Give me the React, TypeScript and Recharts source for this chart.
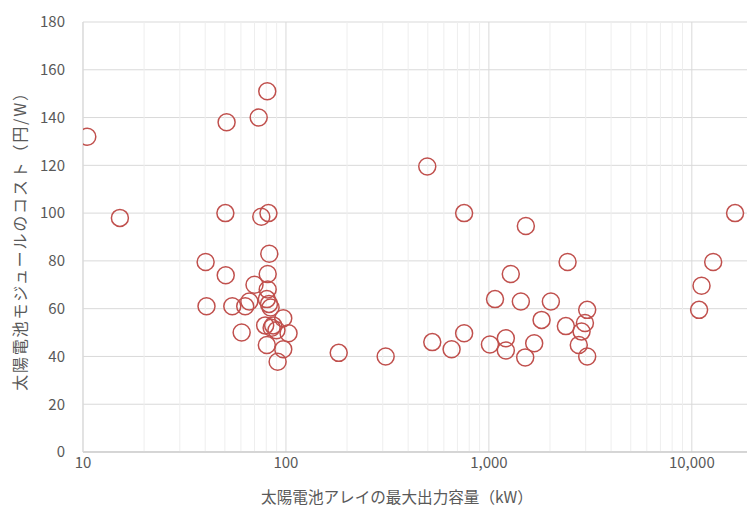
import React from 'react';
import {
  ScatterChart,
  Scatter,
  XAxis,
  YAxis,
  CartesianGrid,
  ReferenceLine,
} from 'recharts';

// 太陽電池アレイの最大出力容量 (kW)
const capacityKw = [
  10.5, 15.2, 40.2, 40.6, 50.5, 50.3, 51, 54.4, 60.5, 63, 66, 70, 73.4, 75.6,
  80.9, 82, 82.8, 81.3, 81.3, 80.5, 82.5, 84, 79, 86.5, 89.8, 85, 97, 103,
  80.5, 97, 91, 182, 310,
  497, 526, 655, 755, 755, 1012, 1072, 1212, 1212, 1282, 1437, 1510, 1521,
  1672, 1818, 2020, 2442, 2395, 2773, 2862, 2973, 3051, 3051,
  10860, 11164, 12740, 16330,
];

// 太陽電池モジュールのコスト (円/W)
const moduleCost = [
  132, 98, 79.5, 61, 74, 100, 138, 61, 50, 61, 63, 70, 140, 98.5,
  151, 100, 83, 74.5, 68, 64, 62, 60.5, 53, 53, 51, 52, 56, 49.7,
  44.8, 43, 37.8, 41.5, 40,
  119.5, 46, 43, 100, 49.7, 45, 64, 47.6, 42.5, 74.5, 63, 39.6, 94.6,
  45.5, 55.3, 63, 79.5, 52.7, 44.8, 50.4, 54, 59.5, 40,
  59.5, 69.6, 79.5, 100,
];

const xTicks = [10, 100, 1000, 10000];
const yTicks = [0, 20, 40, 60, 80, 100, 120, 140, 160, 180];

const X_MAX = 18700;

// minor log gridlines 20..90, 200..900, ...
const minorLines: number[] = [];
for (const decade of [10, 100, 1000, 10000]) {
  for (let m = 2; m <= 9; m++) {
    if (decade * m < X_MAX) minorLines.push(decade * m);
  }
}

const data = capacityKw.map((x, i) => ({ x, y: moduleCost[i] }));

const FONT = '"Noto Sans CJK JP", "Noto Sans", sans-serif';
const TEXT = '#595959';

function Ring(props: any) {
  const { cx, cy } = props;
  return <circle cx={cx} cy={cy} r={8.5} fill="none" stroke="#C0504D" strokeWidth={1.5} />;
}

export default function App() {
  return (
    <div style={{ position: 'absolute', left: 0, top: 0, width: 747, height: 507, background: '#fff' }}>
      <ScatterChart
        width={747}
        height={507}
        margin={{ top: 22, right: 0, bottom: 0, left: 0 }}
        style={{ fontFamily: FONT }}
      >
        <CartesianGrid vertical={false} stroke="#d9d9d9" />
        {minorLines.map(v => (
          <ReferenceLine key={`m${v}`} x={v} stroke="#eeeeee" strokeWidth={1} />
        ))}
        {xTicks.map(v => (
          <ReferenceLine key={`M${v}`} x={v} stroke="#d9d9d9" strokeWidth={1} />
        ))}
        <XAxis
          type="number"
          dataKey="x"
          scale="log"
          domain={[10, X_MAX]}
          allowDataOverflow
          ticks={xTicks}
          tickFormatter={v => Number(v).toLocaleString('en-US')}
          tick={{ fill: TEXT, fontSize: 15 }}
          tickLine={false}
          tickSize={5}
          tickMargin={0}
          axisLine={{ stroke: '#bfbfbf' }}
          height={55}
          label={{
            value: '太陽電池アレイの最大出力容量（kW）',
            position: 'insideBottom',
            offset: 4,
            dx: -18,
            fill: TEXT,
            fontSize: 15.6,
          }}
        />
        <YAxis
          type="number"
          dataKey="y"
          domain={[0, 180]}
          ticks={yTicks}
          tick={{ fill: TEXT, fontSize: 15 }}
          tickLine={false}
          tickMargin={12}
          axisLine={{ stroke: '#d9d9d9' }}
          width={83}
          label={{
            value: '太陽電池モジュールのコスト（円/W）',
            angle: -90,
            position: 'insideLeft',
            offset: 20,
            style: { textAnchor: 'middle', letterSpacing: '1.8px' },
            fill: TEXT,
            fontSize: 16,
          }}
        />
        <Scatter data={data} shape={<Ring />} isAnimationActive={false} />
      </ScatterChart>
    </div>
  );
}
